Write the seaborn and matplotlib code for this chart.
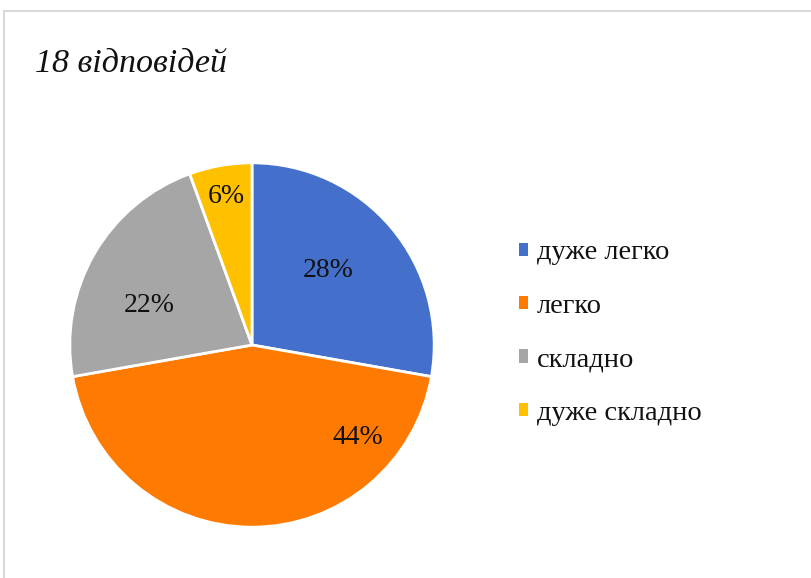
import matplotlib
matplotlib.use("Agg")
import matplotlib.pyplot as plt
import seaborn as sns
from matplotlib.lines import Line2D
from matplotlib.patches import Patch

categories = ["дуже легко", "легко", "складно", "дуже складно"]
counts = [5, 8, 4, 1]
pct_labels = ["28%", "44%", "22%", "6%"]
title = "18 відповідей"

colors = ["#4470CC", "#FF7A00", "#A6A6A6", "#FFC000"]
label_pos = [(0.418, 0.408), (0.582, -0.505), (-0.565, 0.217), (-0.139, 0.815)]

sns.set_theme(style="white")
plt.rcParams["font.family"] = ["Liberation Serif", "DejaVu Serif"]

fig = plt.figure(figsize=(8.11, 5.78), dpi=100)
W, H = 811, 578
cx, cy, r = 252, 345, 184
ax = fig.add_axes([(cx - r) / W, (H - cy - r) / H, 2 * r / W, 2 * r / H])
wedges, _ = ax.pie(counts, colors=colors, startangle=90, counterclock=False,
                   radius=1.0, wedgeprops=dict(edgecolor="white", linewidth=2))
ax.set_xlim(-1.01, 1.01)
ax.set_ylim(-1.01, 1.01)
ax.set_aspect("equal")
ax.axis("off")

for (x, y), t in zip(label_pos, pct_labels):
    ax.text(x, y, t, ha="center", va="center", fontsize=20, color="#111111")

fig.text(35 / W, 1 - 72 / H, title, fontsize=24.5, style="italic",
         ha="left", va="baseline", color="#111111")

handles = [Patch(facecolor=c, edgecolor="none") for c in colors]
leg = fig.legend(handles, categories, loc="center left",
                 bbox_to_anchor=(519 / W, 1 - 333 / H), frameon=False,
                 fontsize=20.5, handlelength=0.33, handleheight=0.33,
                 handletextpad=0.3, labelspacing=1.0,
                 borderaxespad=0, borderpad=0)
for t in leg.get_texts():
    t.set_color("#111111")

fig.add_artist(Line2D([4 / W, 1], [1 - 11 / H, 1 - 11 / H], color="#d9d9d9", lw=1.5,
                      transform=fig.transFigure))
fig.add_artist(Line2D([4 / W, 4 / W], [0, 1 - 11 / H], color="#d9d9d9", lw=1.5,
                      transform=fig.transFigure))

fig.savefig("out.png", dpi=100, facecolor="white")
